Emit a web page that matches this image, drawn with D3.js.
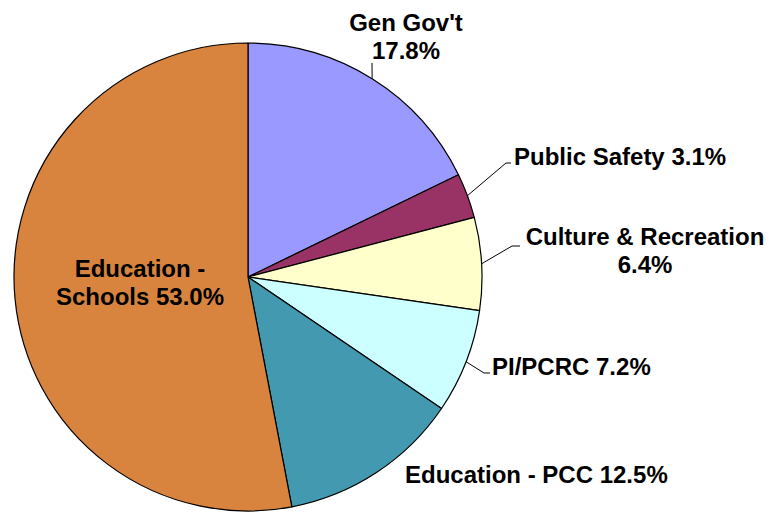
<!DOCTYPE html>
<html>
<head>
<meta charset="utf-8">
<script src="https://cdn.jsdelivr.net/npm/d3@7"></script>
<style>
  body { margin: 0; background: #fff; }
  text { font-family: "Liberation Sans", Arial, sans-serif; font-weight: bold; font-size: 24px; fill: #000; }
</style>
</head>
<body>
<div id="chart"></div>
<script>
// Budget share by function (percent)
const categories = ["Gen Gov't", 'Public Safety', 'Culture & Recreation', 'PI/PCRC', 'Education - PCC', 'Education - Schools'];
const shares = [17.8, 3.1, 6.4, 7.2, 12.5, 53.0];
const sliceColors = ['#9999FF', '#993366', '#FFFFCC', '#CCFFFF', '#4399AF', '#D9843E'];

// Label layout: lines, anchor, position, and leader elbow (null = no leader)
const labelLayout = [
    {lines: ["Gen Gov't", '{v}'], anchor: 'middle', x: 406, y: 31, elbow: [[372, 63]]},
    {lines: ['Public Safety {v}'], anchor: 'start', x: 514, y: 165, elbow: [[506, 163], [511, 163]]},
    {lines: ['Culture & Recreation', '{v}'], anchor: 'middle', x: 645, y: 245, elbow: [[512, 246], [520, 246]]},
    {lines: ['PI/PCRC {v}'], anchor: 'start', x: 492, y: 375, elbow: [[484, 373], [490, 373]]},
    {lines: ['Education - PCC {v}'], anchor: 'start', x: 405, y: 483, elbow: null},
    {lines: ['Education -', 'Schools {v}'], anchor: 'middle', x: 140, y: 277, elbow: null}
];

const width = 772, height = 512;
const cx = 248, cy = 277, radius = 234;

const svg = d3.select('#chart').append('svg')
    .attr('width', width)
    .attr('height', height);

const g = svg.append('g')
    .attr('transform', `translate(${cx},${cy})`);

const pie = d3.pie().sort(null).value(d => d);
const arcs = pie(shares);

const arc = d3.arc().innerRadius(0).outerRadius(radius);

g.selectAll('path.slice')
    .data(arcs)
    .enter().append('path')
    .attr('class', 'slice')
    .attr('d', arc)
    .style('fill', (d, i) => sliceColors[i])
    .style('stroke', '#000')
    .style('stroke-width', 1.2)
    .style('stroke-linejoin', 'round');

// Leader lines from the slice edge to the label elbow
arcs.forEach((d, i) => {
    const lay = labelLayout[i];
    if (!lay.elbow) return;
    const mid = (d.startAngle + d.endAngle) / 2;
    const start = [cx + radius * Math.sin(mid), cy - radius * Math.cos(mid)];
    const pts = [start].concat(lay.elbow);
    svg.append('path')
        .attr('d', d3.line()(pts))
        .style('fill', 'none')
        .style('stroke', '#000')
        .style('stroke-width', 1);
});

// Labels
labelLayout.forEach((lay, i) => {
    const t = svg.append('text')
        .attr('x', lay.x)
        .attr('y', lay.y)
        .style('text-anchor', lay.anchor);
    lay.lines.forEach((ln, j) => {
        t.append('tspan')
            .attr('x', lay.x)
            .attr('dy', j === 0 ? 0 : 28)
            .text(ln.replace('{v}', shares[i].toFixed(1) + '%'));
    });
});
</script>
</body>
</html>
